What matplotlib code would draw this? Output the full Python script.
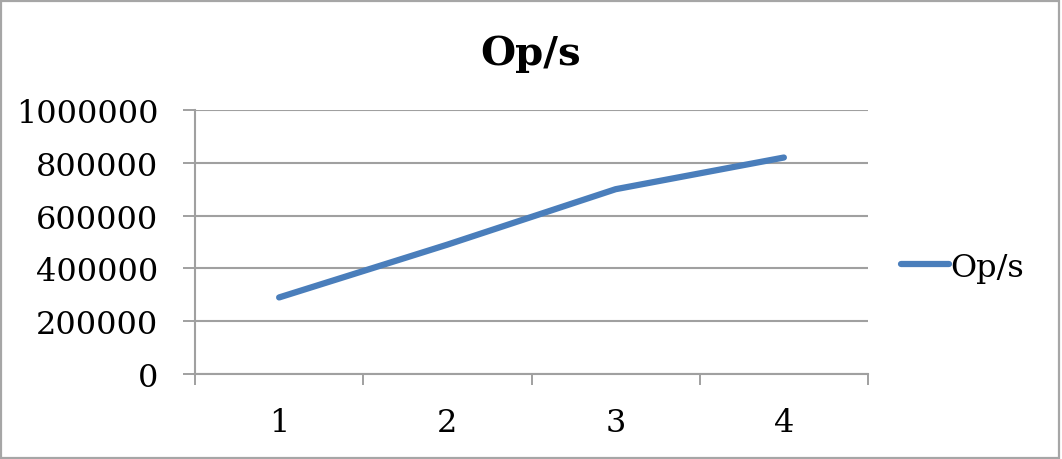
import matplotlib.pyplot as plt
from matplotlib.patches import Rectangle
from matplotlib.ticker import FixedLocator, NullFormatter

# data
runs = [1, 2, 3, 4]
ops_per_sec = [290000, 490000, 700000, 820000]
y_ticks = [0, 200000, 400000, 600000, 800000, 1000000]

plt.rcParams['font.family'] = ['DejaVu Serif']
grey = '#a0a0a0'
blue = '#4a7ebb'

fig = plt.figure(figsize=(10.62, 4.6), dpi=100)
ax = fig.add_axes([195 / 1062, 85 / 460, 673 / 1062, 264 / 460])

ax.plot(runs, ops_per_sec, color=blue, lw=4.5, solid_capstyle='round',
        solid_joinstyle='round', label='Op/s', zorder=3)

ax.set_xlim(0.5, 4.5)
ax.set_ylim(0, 1000000)

# category boundaries as major ticks, labels on minor ticks
ax.xaxis.set_major_locator(FixedLocator([0.5, 1.5, 2.5, 3.5, 4.5]))
ax.xaxis.set_major_formatter(NullFormatter())
ax.xaxis.set_minor_locator(FixedLocator(runs))
ax.set_xticklabels([str(r) for r in runs], minor=True)
ax.tick_params(axis='x', which='major', length=8, width=1.4, color=grey, direction='out')
ax.tick_params(axis='x', which='minor', length=0, pad=24, labelsize=23)

ax.set_yticks(y_ticks)
ax.set_yticklabels([str(v) for v in y_ticks])
ax.tick_params(axis='y', length=8.5, width=1.4, color=grey, direction='out', pad=18, labelsize=23)
ax.yaxis.grid(True, color=grey, lw=1.5)
ax.set_axisbelow(True)

for side in ['top', 'right']:
    ax.spines[side].set_visible(False)
for side in ['left', 'bottom']:
    ax.spines[side].set_color(grey)
    ax.spines[side].set_linewidth(1.5)

fig.text(531 / 1062, (460 - 65) / 460, 'Op/s', ha='center', va='baseline',
         fontsize=29, fontweight='bold')

fig.legend(loc='center left', bbox_to_anchor=(901 / 1062, 192 / 460), frameon=False,
           fontsize=23, handlelength=1.5, handletextpad=0.05, borderpad=0, borderaxespad=0)

fig.patches.append(Rectangle((0.001, 0.002), 0.996, 0.994, transform=fig.transFigure,
                             fill=False, edgecolor='#a6a6a6', lw=1.6))

fig.savefig('out.png', dpi=100)
